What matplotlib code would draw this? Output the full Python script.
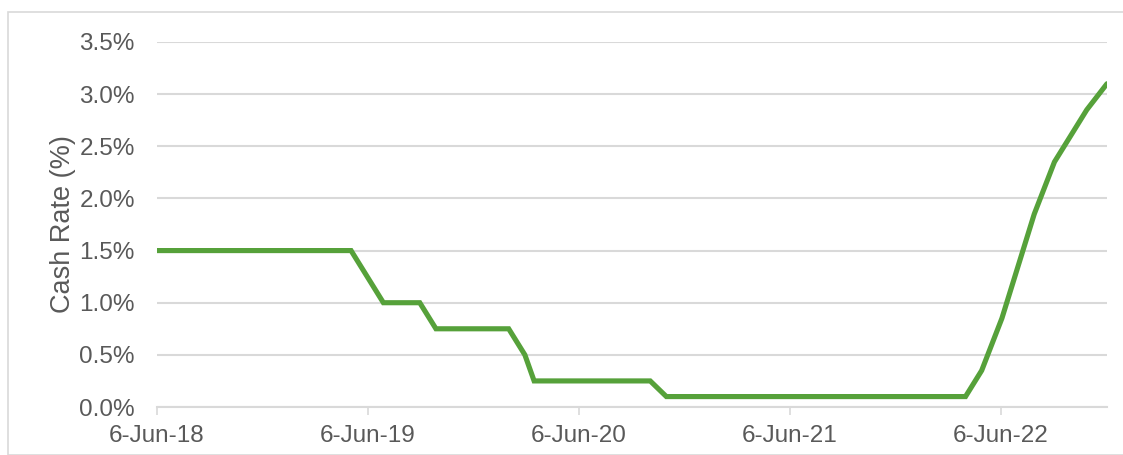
import datetime as dt
import matplotlib
matplotlib.use("Agg")
import matplotlib.pyplot as plt
import matplotlib.dates as mdates
from matplotlib.patches import Rectangle
from matplotlib.ticker import MultipleLocator, FuncFormatter

# RBA cash rate target, by effective date of each board decision
dates = [
    "2018-06-06", "2018-07-04", "2018-08-08", "2018-09-05", "2018-10-03", "2018-11-07", "2018-12-05",
    "2019-02-06", "2019-03-06", "2019-04-03", "2019-05-08", "2019-06-05", "2019-07-03", "2019-08-07",
    "2019-09-04", "2019-10-02", "2019-11-06", "2019-12-04",
    "2020-02-05", "2020-03-04", "2020-03-20", "2020-04-08", "2020-05-06", "2020-06-03", "2020-07-08",
    "2020-08-05", "2020-09-02", "2020-10-07", "2020-11-04", "2020-12-02",
    "2021-02-03", "2021-03-03", "2021-04-07", "2021-05-05", "2021-06-02", "2021-07-07", "2021-08-04",
    "2021-09-08", "2021-10-06", "2021-11-03", "2021-12-08",
    "2022-02-02", "2022-03-02", "2022-04-06", "2022-05-04", "2022-06-08", "2022-07-06", "2022-08-03",
    "2022-09-07", "2022-10-05", "2022-11-02", "2022-12-07",
]
cash_rate = [
    1.50, 1.50, 1.50, 1.50, 1.50, 1.50, 1.50,
    1.50, 1.50, 1.50, 1.50, 1.25, 1.00, 1.00,
    1.00, 0.75, 0.75, 0.75,
    0.75, 0.50, 0.25, 0.25, 0.25, 0.25, 0.25,
    0.25, 0.25, 0.25, 0.10, 0.10,
    0.10, 0.10, 0.10, 0.10, 0.10, 0.10, 0.10,
    0.10, 0.10, 0.10, 0.10,
    0.10, 0.10, 0.10, 0.35, 0.85, 1.35, 1.85,
    2.35, 2.60, 2.85, 3.10,
]
tick_dates = ["2018-06-06", "2019-06-06", "2020-06-06", "2021-06-06", "2022-06-06"]

x = [dt.datetime.strptime(d, "%Y-%m-%d") for d in dates]
xt = [dt.datetime.strptime(d, "%Y-%m-%d") for d in tick_dates]

plt.rcParams["font.family"] = ["Liberation Sans", "DejaVu Sans"]
grey_txt = "#595959"
grid_col = "#d9d9d9"

W, H = 1123, 455
fig = plt.figure(figsize=(W / 100, H / 100), dpi=100)
fig.patches.append(Rectangle((8 / W, 0), 1.2, 1 - 12 / H, transform=fig.transFigure,
                             fill=False, edgecolor=grid_col, linewidth=1.2))

ax = fig.add_axes([157 / W, 1 - 407 / H, (1107 - 157) / W, (407 - 42) / H])
ax.plot(x, cash_rate, color="#56A13A", linewidth=3.7, solid_capstyle="round",
        solid_joinstyle="miter", zorder=3)

ax.set_xlim(x[0], x[-1])
ax.set_ylim(0, 3.5)
ax.yaxis.set_major_locator(MultipleLocator(0.5))
ax.yaxis.set_major_formatter(FuncFormatter(lambda v, p: f"{v:.1f}%"))
ax.set_xticks(xt)
ax.xaxis.set_major_formatter(
    FuncFormatter(lambda v, p: "{}-{}".format(mdates.num2date(v).day, mdates.num2date(v).strftime("%b-%y"))))

ax.grid(axis="y", color=grid_col, linewidth=1.5, zorder=0)
for s in ["left", "right", "top"]:
    ax.spines[s].set_visible(False)
ax.spines["bottom"].set_color(grid_col)
ax.spines["bottom"].set_linewidth(1.5)

ax.tick_params(axis="y", length=0, pad=16, labelsize=17.5, labelcolor=grey_txt)
ax.tick_params(axis="x", length=6, width=1.2, color=grid_col, pad=7, labelsize=17.5,
               labelcolor=grey_txt)
ax.set_ylabel("Cash Rate (%)", fontsize=19.5, color=grey_txt, labelpad=2)

fig.savefig("out.png", dpi=100)
